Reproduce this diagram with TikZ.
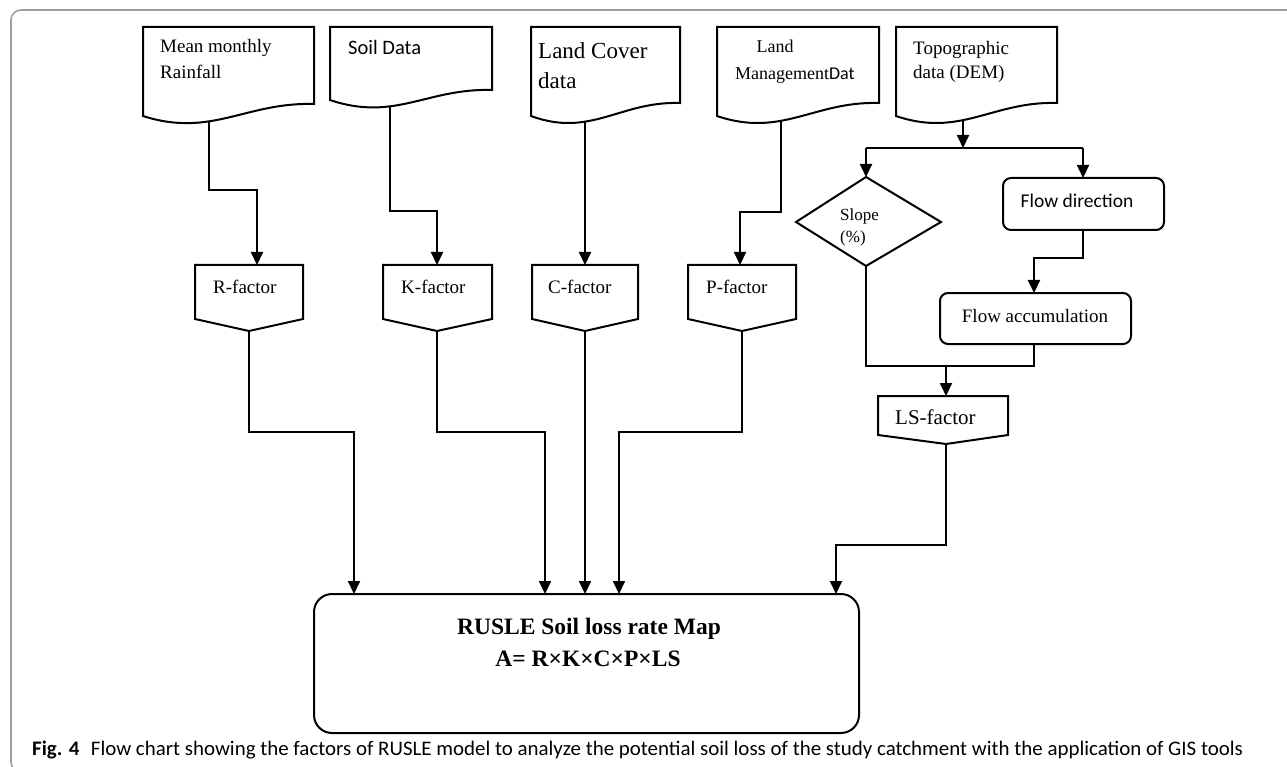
\documentclass[tikz,border=0pt]{standalone}
\usepackage{fontspec}
\usepackage{graphicx}
\setmainfont{Liberation Serif}
\newfontfamily\calfont{Carlito}
\usetikzlibrary{arrows.meta}
\newcommand\docshape[4]{\draw[shp] (#1,#3) -- (#1,27) -- (#2,27) -- (#2,#4) .. controls ({#1+0.6*(#2-#1)},{#4-2}) and ({#1+0.4*(#2-#1)},{#3+22}) .. (#1,#3) -- cycle;}
\newcommand\offpage[6]{\draw[shp] (#1,#3) -- (#2,#3) -- (#2,#4) -- (#5,#6) -- (#1,#4) -- cycle;}
\begin{document}
\begin{tikzpicture}[x=1pt,y=-1pt,
  shp/.style={draw=black, line width=2pt, line join=miter},
  conn/.style={draw=black, line width=2pt},
  arr/.style={conn, -{Triangle[length=13pt,width=12pt]}},
  lbl/.style={inner sep=0pt, anchor=base west, text=black},
  tnr/.style={lbl, font=\fontsize{#1}{#1}\selectfont},
  cal/.style={lbl, font=\calfont\fontsize{#1}{#1}\selectfont},
]
\clip (0,0) rectangle (1287,767);
\fill[white] (0,0) rectangle (1287,767);
\draw[gray!75, line width=1.6pt, rounded corners=10pt] (1300,10) -- (11,10) -- (11,772) -- (1300,772);

% input documents
\docshape{143}{314}{116}{104}
\docshape{330}{492}{100}{90}
\docshape{531}{680}{116}{103}
\docshape{717}{879}{116}{103}
\docshape{896}{1057}{116}{103}

\node[tnr=19] (rain-t1) at (160,53) {Mean monthly};
\node[tnr=19] (rain-t2) at (160,79) {Rainfall};
\node[cal=20.5] (soil-t) at (348,55) {Soil Data};
\node[tnr=23] (cover-t1) at (538,59) {Land Cover};
\node[tnr=23] (cover-t2) at (538,89) {data};
\node[tnr=18, anchor=base] (mgmt-t1) at (775,53) {Land};
\node[tnr=18] (mgmt-t2) at (735,80) {Management{\calfont Dat}};
\node[tnr=19] (topo-t1) at (913,55) {Topographic};
\node[tnr=19] (topo-t2) at (913,79) {data (DEM)};

% factor boxes
\offpage{195}{303}{265}{319}{249}{331}
\offpage{383}{492}{265}{319}{437}{331}
\offpage{532}{638}{265}{319}{585}{331}
\offpage{688}{796}{265}{319}{742}{331}
\offpage{878}{1008}{396}{435}{946}{444}
\node[tnr=19] (R-t) at (213,293) {R-factor};
\node[tnr=19] (K-t) at (401,293) {K-factor};
\node[tnr=19] (C-t) at (548,293) {C-factor};
\node[tnr=19] (P-t) at (706,293) {P-factor};
\node[tnr=21] (LS-t) at (895,424) {LS-factor};

% slope diamond and flow boxes
\draw[shp] (796,222) -- (866,177) -- (941,222) -- (866,266) -- cycle;
\node[tnr=17] (slope-t1) at (840,221) {Slope};
\node[tnr=17] (slope-t2) at (840,243) {(\%)};
\draw[shp, rounded corners=8pt] (1003,178) rectangle (1164,230);
\node[cal=19.5, anchor=base] (fd-t) at (1077,208) {Flow direction};
\draw[shp, rounded corners=8pt] (940,293) rectangle (1131,344);
\node[tnr=19, anchor=base] (fa-t) at (1035,322) {Flow accumulation};

% main box
\draw[shp, rounded corners=18pt] (314,594) rectangle (859,733);
\node[lbl, anchor=base, font=\bfseries\fontsize{23.5}{23.5}\selectfont] (main-t1) at (589,634) {RUSLE Soil loss rate Map};
\node[lbl, anchor=base, font=\bfseries\fontsize{23.5}{23.5}\selectfont] (main-t2) at (588,666) {A= R×K×C×P×LS};

% connection points
\coordinate (rain-out) at (209,122);
\coordinate (soil-out) at (390,106);
\coordinate (cover-out) at (585,122);
\coordinate (mgmt-out) at (781,121);
\coordinate (topo-out) at (963,120);
\coordinate (R-in) at (257,265);
\coordinate (K-in) at (437,265);
\coordinate (C-in) at (585,265);
\coordinate (P-in) at (740,265);
\coordinate (R-out) at (249,331);
\coordinate (K-out) at (437,331);
\coordinate (C-out) at (585,331);
\coordinate (P-out) at (742,331);
\coordinate (LS-out) at (946,444);
\coordinate (LS-in) at (946,396);
\coordinate (split) at (963,148);
\coordinate (split-l) at (866,148);
\coordinate (split-r) at (1083,148);
\coordinate (slope-top) at (866,177);
\coordinate (slope-bot) at (866,266);
\coordinate (fd-top) at (1083,178);
\coordinate (fd-bot) at (1083,230);
\coordinate (fa-top) at (1034,293);
\coordinate (fa-bot) at (1034,344);
\coordinate (merge-r) at (1034,366);
\coordinate (merge) at (946,366);
\coordinate (M-R) at (354,594);
\coordinate (M-K) at (545,594);
\coordinate (M-C) at (585,594);
\coordinate (M-P) at (619,594);
\coordinate (M-LS) at (836,594);

% connectors
\draw[arr] (rain-out) -- ++(0,68) -| (R-in);
\draw[arr] (soil-out) -- ++(0,105) -| (K-in);
\draw[arr] (cover-out) -- (C-in);
\draw[arr] (mgmt-out) -- ++(0,91) -| (P-in);
\draw[arr] (topo-out) -- (split);
\draw[conn] (split-l) -- (split-r);
\draw[arr] (split-l) -- (slope-top);
\draw[arr] (split-r) -- (fd-top);
\draw[arr] (fd-bot) -- ++(0,28) -| (fa-top);
\draw[conn] (slope-bot) |- (merge-r) -- (fa-bot);
\draw[arr] (merge) -- (LS-in);
\draw[arr] (R-out) -- ++(0,101) -| (M-R);
\draw[arr] (K-out) -- ++(0,101) -| (M-K);
\draw[arr] (C-out) -- (M-C);
\draw[arr] (P-out) -- ++(0,101) -| (M-P);
\draw[arr] (LS-out) -- ++(0,101) -| (M-LS);

% caption
\node[cal=19] (cap) at (32,755) {\resizebox{1211pt}{14.5pt}{\textbf{Fig. 4}\hspace{0.55em}Flow chart showing the factors of RUSLE model to analyze the potential soil loss of the study catchment with the application of GIS tools}};
\end{tikzpicture}
\end{document}
